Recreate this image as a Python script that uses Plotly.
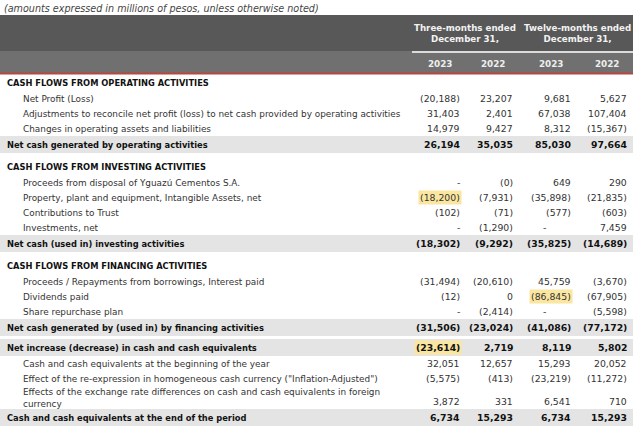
import math
import plotly.graph_objects as go

# ---------------- data ----------------
row_labels = [
    "CASH FLOWS FROM OPERATING ACTIVITIES",
    "Net Profit (Loss)",
    "Adjustments to reconcile net profit (loss) to net cash provided by operating activities",
    "Changes in operating assets and liabilities",
    "Net cash generated by operating activities",
    "CASH FLOWS FROM INVESTING ACTIVITIES",
    "Proceeds from disposal of Yguazú Cementos S.A.",
    "Property, plant and equipment, Intangible Assets, net",
    "Contributions to Trust",
    "Investments, net",
    "Net cash (used in) investing activities",
    "CASH FLOWS FROM FINANCING ACTIVITIES",
    "Proceeds / Repayments from borrowings, Interest paid",
    "Dividends paid",
    "Share repurchase plan",
    "Net cash generated by (used in) by financing activities",
    "Net increase (decrease) in cash and cash equivalents",
    "Cash and cash equivalents at the beginning of the year",
    "Effect of the re-expression in homogeneous cash currency (\"Inflation-Adjusted\")",
    "Effects of the exchange rate differences on cash and cash equivalents in foreign<br>currency",
    "Cash and cash equivalents at the end of the period",
]
row_kinds = [
    "section", "item", "item", "item", "total",
    "section", "item", "item", "item", "item", "total",
    "section", "item", "item", "item", "total",
    "total", "item", "item", "item2", "total",
]
N = None
three_months_2023 = [N, -20188, 31403, 14979, 26194, N, N, -18200, -102, N, -18302,
                     N, -31494, -12, N, -31506, -23614, 32051, -5575, 3872, 6734]
three_months_2022 = [N, 23207, 2401, 9427, 35035, N, -0.0, -7931, -71, -1290, -9292,
                     N, -20610, 0, -2414, -23024, 2719, 12657, -413, 331, 15293]
twelve_months_2023 = [N, 9681, 67038, 8312, 85030, N, 649, -35898, -577, N, -35825,
                      N, 45759, -86845, N, -41086, 8119, 15293, -23219, 6541, 6734]
twelve_months_2022 = [N, 5627, 107404, -15367, 97664, N, 290, -21835, -603, 7459, -14689,
                      N, -3670, -67905, -5598, -77172, 5802, 20052, -11272, 710, 15293]
# cells shown as "-" (no value)
dash_cells = {(6, 0), (9, 0), (9, 2), (14, 0), (14, 2)}
highlights = {(7, 0), (13, 2), (16, 0)}

title = "(amounts expressed in millions of pesos, unless otherwise noted)"
group_labels = ["Three-months ended<br>December 31,", "Twelve-months ended<br>December 31,"]
year_labels = ["2023", "2022", "2023", "2022"]
columns = [three_months_2023, three_months_2022, twelve_months_2023, twelve_months_2022]

# ---------------- style / layout ----------------
W, H = 640, 430
FONT = "Verdana, DejaVu Sans, sans-serif"
col_right = [462, 515, 573, 629]
dash_shift = [0, 0, -25, 0]
table_right = 633
dark = "#585858"
mid = "#707070"
red = "#b8463e"
band = "#e4e4e4"
hl = "#fbe6a0"
txt = "#333333"


def fmt(v):
    if v is None:
        return "-"
    neg = v < 0 or (v == 0 and math.copysign(1, v) < 0)
    s = f"{abs(v):,.0f}"
    return f"({s})" if neg else s


fig = go.Figure()
fig.add_trace(go.Scatter(x=[0, W], y=[0, H], mode="markers",
                         marker=dict(opacity=0), hoverinfo="skip", showlegend=False))

shapes = []
ann = []

# title
ann.append(dict(x=2, y=8, text=f"<i>{title}</i>", xanchor="left", yanchor="middle",
                font=dict(family=FONT, size=9.6, color="#444")))
# header bands
shapes.append(dict(type="rect", x0=0, x1=table_right, y0=15, y1=51, fillcolor=dark, line_width=0, layer="below"))
shapes.append(dict(type="rect", x0=0, x1=table_right, y0=51, y1=73, fillcolor=mid, line_width=0, layer="below"))
shapes.append(dict(type="line", x0=0, x1=table_right, y0=73.5, y1=73.5, line=dict(color=red, width=2)))
shapes.append(dict(type="line", x0=412, x1=table_right, y0=52, y1=52, line=dict(color="white", width=1.5)))
for i, g in enumerate(group_labels):
    cx = (col_right[2 * i] + col_right[2 * i + 1]) / 2 - 23.5
    ann.append(dict(x=cx, y=33, text=f"<b>{g}</b>", xanchor="center", yanchor="middle",
                    font=dict(family=FONT, size=8.7, color="#f2f2f2"), align="center"))
for j, yl in enumerate(year_labels):
    ann.append(dict(x=col_right[j] - 22, y=64, text=f"<b>{yl}</b>", xanchor="center", yanchor="middle",
                    font=dict(family=FONT, size=8.8, color="#eeeeee")))

# rows
y = 75
first_section = True
prev = None
for i, (lab, kind) in enumerate(zip(row_labels, row_kinds)):
    if kind == "section":
        h = 16 if first_section else 22
        first_section = False
        cy = y + h - 8.5
        vy = cy
    elif kind == "item":
        h = 15
        cy = y + 7.5
        vy = cy
    elif kind == "item2":
        h = 23
        cy = y + 12
        vy = cy + 3
    else:
        if prev == "total":
            y += 3
        h = 17
        cy = y + 8.5
        vy = cy
        shapes.append(dict(type="rect", x0=0, x1=table_right, y0=y, y1=y + h,
                           fillcolor=band, line_width=0, layer="below"))
    bold = kind in ("section", "total")
    x_lab = 5 if bold else 21
    ann.append(dict(x=x_lab, y=cy, text=(f"<b>{lab}</b>" if bold else lab),
                    xanchor="left", yanchor="middle", align="left",
                    font=dict(family=FONT, size=8.3 if bold else 8.9, color="#111" if bold else txt)))
    if kind != "section":
        for j, col in enumerate(columns):
            v = col[i]
            if v is None and (i, j) not in dash_cells:
                continue
            s = fmt(v)
            xr = col_right[j] + (dash_shift[j] if v is None else 0)
            a = dict(x=xr, y=vy, text=(f"<b>{s}</b>" if bold else s), xanchor="right",
                     yanchor="middle", font=dict(family=FONT, size=9.3, color="#111" if bold else txt))
            if (i, j) in highlights:
                a["bgcolor"] = hl
                a["borderpad"] = 1
            ann.append(a)
    prev = kind
    y += h

fig.update_layout(
    width=W, height=H,
    margin=dict(l=0, r=0, t=0, b=0),
    paper_bgcolor="white", plot_bgcolor="white",
    xaxis=dict(range=[0, W], visible=False, fixedrange=True),
    yaxis=dict(range=[H, 0], visible=False, fixedrange=True),
    shapes=shapes, annotations=[dict(showarrow=False, xref="x", yref="y", **a) for a in ann],
)
fig.write_html("out.html", config={"displayModeBar": False},
               post_script="document.body.style.margin='0';document.body.style.overflow='hidden';")
